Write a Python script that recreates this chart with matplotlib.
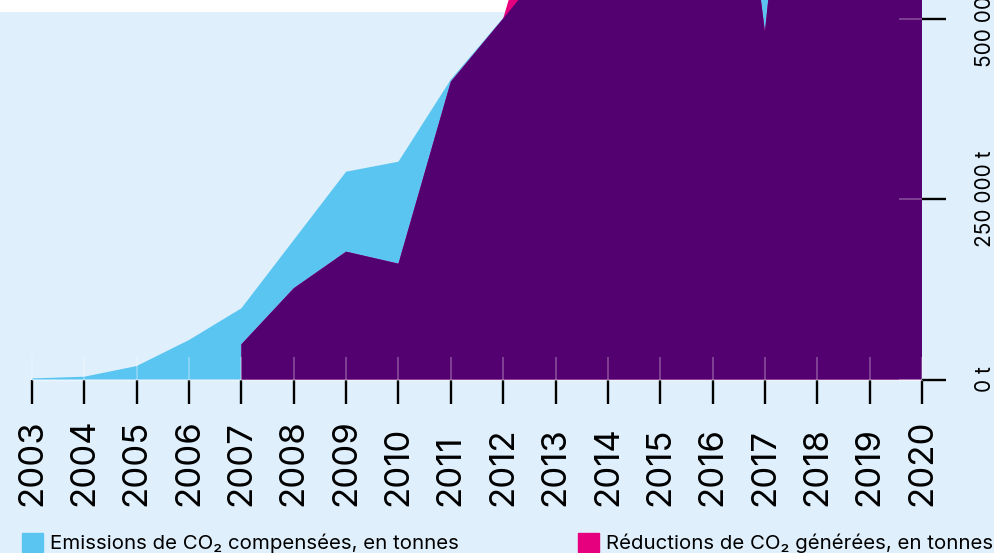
"""Cumulated CO2 offsets vs generated reductions, area chart (cropped view)."""

import matplotlib

matplotlib.use("Agg")

import matplotlib.pyplot as plt
import numpy as np
from matplotlib.patches import Patch, Rectangle

# --- data ---------------------------------------------------------------
years = [2003, 2004, 2005, 2006, 2007, 2008, 2009, 2010, 2011,
         2012, 2013, 2014, 2015, 2016, 2017, 2018, 2019, 2020]
compensated = [1500, 3900, 18700, 54800, 98800, 193500, 288200, 302100, 416000,
               501500, 590000, 800000, 1000000, 1200000, 1400000, 1600000, 1800000, 2000000]

red_years = [2007, 2008, 2009, 2010, 2011, 2012, 2013,
             2014, 2015, 2016, 2017, 2018, 2019, 2020]
reductions = [48800, 126500, 177300, 160600, 413000, 500500, 748000,
              850000, 950000, 1056000, 482400, 1180000, 1300000, 1400000]

y_ticks = [0, 250000, 500000]
y_labels = ["0 t", "250 000 t", "500 000 t"]

label_comp = "Emissions de CO₂ compensées, en tonnes"
label_red = "Réductions de CO₂ générées, en tonnes"

# --- style --------------------------------------------------------------
BG = "#dff0fc"
BLUE = "#5bc5f2"
PINK = "#e6007e"
PURPLE = "#530070"
FAMILY = ["Inter", "DejaVu Sans"]
plt.rcParams["font.family"] = FAMILY

W, H = 994, 553
fig = plt.figure(figsize=(W / 100, H / 100), dpi=100)
fig.patch.set_facecolor(BG)

# white strip at the very top (behind the areas)
fig.add_artist(Rectangle((0, 1 - 12.3 / H), 922 / W, 12.3 / H, transform=fig.transFigure,
                         facecolor="white", edgecolor="none", zorder=-1))

ax = fig.add_axes([32 / W, 1 - 379.5 / H, 890 / W, 379.5 / H])
ax.set_facecolor("none")

comp_at_red = np.interp(red_years, years, compensated)
overlap = np.minimum(comp_at_red, reductions)

ax.fill_between(years, compensated, color=BLUE, lw=0)
ax.fill_between(red_years, reductions, color=PINK, lw=0)
ax.fill_between(red_years, overlap, color=PURPLE, lw=0)

ax.set_xlim(2003, 2020)
ax.set_ylim(0, 526350)

# outer (black) ticks
ax.set_xticks(years)
ax.set_xticklabels([str(y) for y in years])
ax.yaxis.tick_right()
ax.set_yticks(y_ticks)
ax.set_yticklabels(y_labels)
ax.tick_params(which="major", direction="out", length=17, width=1.7, color="black")
ax.tick_params(axis="x", which="major", pad=74, labelsize=25, labelrotation=90)
ax.tick_params(axis="y", which="major", pad=21, labelsize=15, labelrotation=90)
for lab in ax.get_xticklabels():
    lab.set_verticalalignment("bottom")
for lab in ax.get_yticklabels():
    lab.set_verticalalignment("center")

# inner (translucent) ticks at the same places
ax.xaxis.remove_overlapping_locs = False
ax.yaxis.remove_overlapping_locs = False
ax.set_xticks(years, minor=True)
ax.set_yticks(y_ticks, minor=True)
ax.tick_params(which="minor", direction="in", length=16.5, width=1.2,
               color=(1, 1, 1, 0.3))

for side in ["top", "left", "right"]:
    ax.spines[side].set_visible(False)
ax.spines["bottom"].set_color((1, 1, 1, 0.35))
ax.spines["bottom"].set_linewidth(1)

# legend, two separate entries
leg_kw = dict(loc="upper left", frameon=False, fontsize=14.7, borderpad=0,
              borderaxespad=0, handlelength=1.03, handleheight=1.03, handletextpad=0.33)
fig.legend(handles=[Patch(color=BLUE, label=label_comp)],
           bbox_to_anchor=(22 / W, 1 - 533 / H), **leg_kw)
fig.legend(handles=[Patch(color=PINK, label=label_red)],
           bbox_to_anchor=(578 / W, 1 - 533 / H), **leg_kw)

fig.savefig("out.png", dpi=100, facecolor=BG)
